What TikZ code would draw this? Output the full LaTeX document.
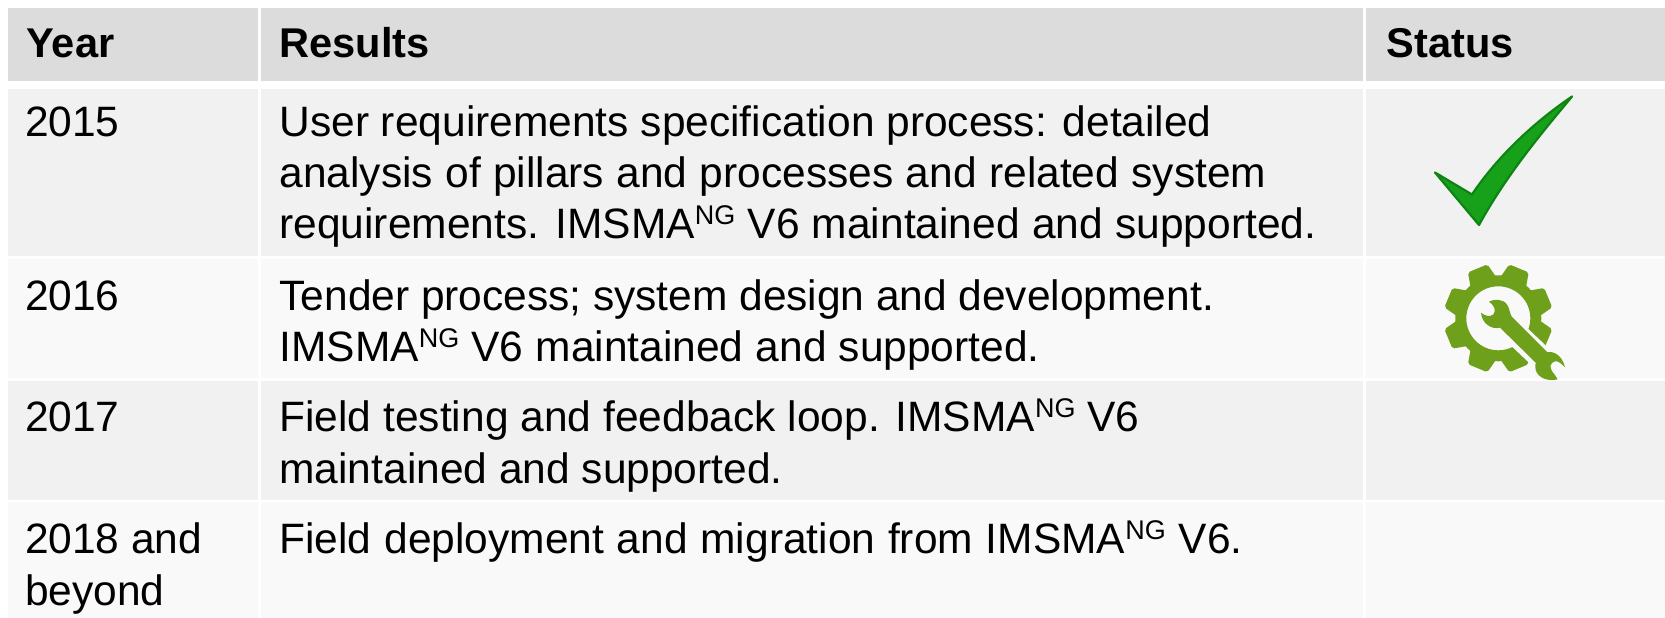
\documentclass[tikz,border=0pt]{standalone}
\usepackage{fontspec}
\setmainfont{Liberation Sans}
\definecolor{hdr}{HTML}{DCDCDC}
\definecolor{rowa}{HTML}{F1F1F1}
\definecolor{rowb}{HTML}{F9F9F9}
\definecolor{chk}{HTML}{17A11B}
\definecolor{chkd}{HTML}{0E8412}
\definecolor{gear}{HTML}{6FA01C}
\newcommand{\sng}{\raisebox{13.5pt}{\fontsize{27}{27}\selectfont NG}}
\tikzset{
 txt/.style={anchor=base west,inner sep=0pt,outer sep=0pt,font=\fontsize{42.5}{42.5}\selectfont,text=black},
 hd/.style={txt,font=\fontsize{41.6}{41.6}\selectfont\bfseries},
 sp/.style={execute at begin node={\spaceskip=#1pt\relax}},
}
\begin{document}
\begin{tikzpicture}[x=1pt,y=-1pt]
\useasboundingbox (0,0) rectangle (1665,618);
\fill[white] (0,0) rectangle (1665,618);
\foreach \xa/\xb in {7.5/258,260.5/1363,1366/1665}{
 \fill[hdr] (\xa,8) rectangle (\xb,81);
 \fill[rowa] (\xa,89) rectangle (\xb,256);
 \fill[rowb] (\xa,258.5) rectangle (\xb,378);
 \fill[rowa] (\xa,381) rectangle (\xb,499.5);
 \fill[rowb] (\xa,502) rectangle (\xb,618);
}
\node[hd] (h1) at (26.5,58) {Year};
\node[hd] (h2) at (279.5,58) {Results};
\node[hd] (h3) at (1386.5,58) {Status};
\node[txt] (y1) at (25,136) {2015};
\node[txt] (y2) at (25,310) {2016};
\node[txt] (y3) at (25,431) {2017};
\node[txt] (y4) at (25,553) {2018 and};
\node[txt] (y4b) at (25,605) {beyond};
\node[txt] (r1a) at (279.5,136) {User requirements specification process: detailed};
\node[txt,sp=12.4] (r1b) at (279.5,187) {analysis of pillars and processes and related system};
\node[txt,sp=12.3] (r1c) at (279.5,238) {requirements. IMSMA\sng{} V6 maintained and supported.};
\node[txt,sp=11.6] (r2a) at (279.5,310) {Tender process; system design and development.};
\node[txt,sp=12.2] (r2b) at (279.5,361) {IMSMA\sng{} V6 maintained and supported.};
\node[txt,sp=11.9] (r3a) at (279.5,431) {Field testing and feedback loop. IMSMA\sng{} V6};
\node[txt] (r3b) at (279.5,483) {maintained and supported.};
\node[txt,sp=12.8] (r4a) at (279.5,553) {Field deployment and migration from IMSMA\sng{} V6.};
% check mark
\filldraw[fill=chk,draw=chkd,line width=2.2pt,line join=round] (1435,172.5) -- (1472,194.5) .. controls (1495,160) and (1530,125) .. (1572,96.5) .. controls (1546,128) and (1508,172) .. (1479,225) -- cycle;
% gear
\begin{scope}[shift={(1498.3,318.3)}]
 \fill[gear,even odd rule] (0,0) circle (43) (0,0) circle (32);
 \foreach \a in {0,45,...,315}{
  \fill[gear,rotate=\a+22.5,rounded corners=2pt] (-14,-38) -- (-10.5,-54) -- (10.5,-54) -- (14,-38) -- cycle;
 }
\end{scope}
% wrench
\begin{scope}[shift={(1470,290)},x=0.3333pt,y=-0.3333pt]
 \draw[rowb,line width=24pt] (150,143) -- (205,195);
 \fill[gear] (57,35) .. controls (70,27) and (100,25) .. (112,45) .. controls (118,55) and (119,68) .. (125,80)
   -- (232,187) .. controls (245,183) and (275,190) .. (285,232)
   .. controls (275,222) and (265,212) .. (255,214) .. controls (240,218) and (238,232) .. (247,245) .. controls (252,252) and (258,258) .. (263,268)
   .. controls (235,275) and (205,265) .. (197,240) .. controls (195,232) and (196,225) .. (197,218)
   -- (90,113) .. controls (65,120) and (35,100) .. (33,68)
   .. controls (45,78) and (60,82) .. (70,73) .. controls (80,62) and (72,45) .. (57,35) -- cycle;
\end{scope}
\end{tikzpicture}
\end{document}
